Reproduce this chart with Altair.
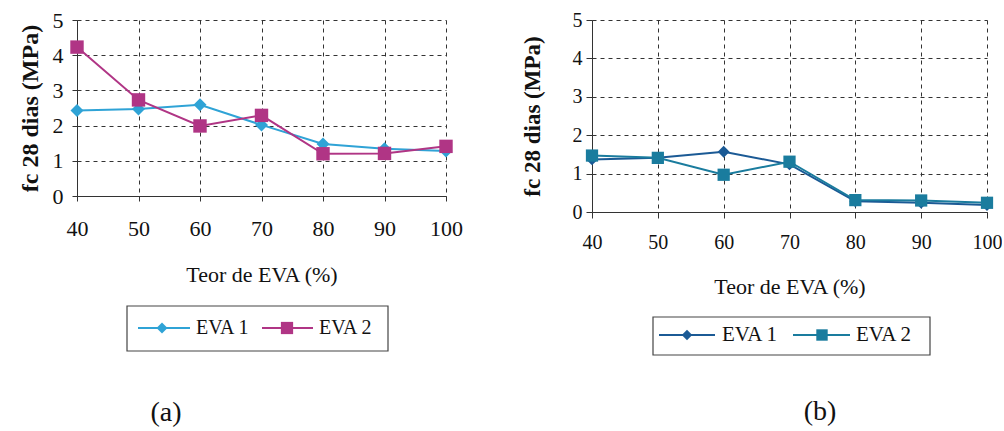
import altair as alt
import pandas as pd

teor = [40, 50, 60, 70, 80, 90, 100]
series = ["EVA 1", "EVA 2"]
a_eva1 = [2.43, 2.47, 2.59, 2.02, 1.48, 1.34, 1.28]
a_eva2 = [4.23, 2.73, 1.99, 2.29, 1.20, 1.21, 1.41]
b_eva1 = [1.37, 1.41, 1.57, 1.24, 0.28, 0.24, 0.18]
b_eva2 = [1.47, 1.41, 0.97, 1.31, 0.31, 0.30, 0.24]

x_ticks = teor
y_ticks = [0, 1, 2, 3, 4, 5]
x_title = "Teor de EVA (%)"
y_title = "fc 28 dias (MPa)"
panel_labels = ["(a)", "(b)"]

colors_a = ["#2FA3D6", "#B03585"]
colors_b = ["#1B5A95", "#1A7C9E"]
shapes = ["diamond", "square"]

FONT = "'Liberation Serif', 'Times New Roman', 'DejaVu Serif', serif"


def make_df(v1, v2):
    rows = []
    for s, vals in zip(series, [v1, v2]):
        for t, v in zip(teor, vals):
            rows.append({"teor": t, "fc": v, "serie": s})
    return pd.DataFrame(rows)


def panel(df, colors, W, H, opts):
    xs = alt.Scale(domain=[40, 100], nice=False, zero=False)
    ys = alt.Scale(domain=[0, 5], nice=False)
    cs = alt.Scale(domain=series, range=colors)
    ss = alt.Scale(domain=series, range=shapes)
    x = alt.X("teor:Q", scale=xs,
              axis=alt.Axis(values=x_ticks, title=x_title, format="d",
                            grid=True, gridDash=[4, 4], gridColor="#333",
                            gridWidth=1, domainColor="#333", tickColor="#333",
                            tickSize=opts["tick"], labelFont=FONT, labelFontSize=opts["lfs"],
                            labelColor="#111", labelPadding=opts["xlp"],
                            labelFlush=False, labelOverlap=False,
                            titleFont=FONT, titleFontSize=opts["xtfs"],
                            titleFontWeight="normal", titleColor="#111",
                            titlePadding=opts["xtp"]))
    y = alt.Y("fc:Q", scale=ys,
              axis=alt.Axis(values=y_ticks, title=y_title,
                            grid=True, gridDash=[4, 4], gridColor="#333",
                            gridWidth=1, domainColor="#333", tickColor="#333",
                            tickSize=opts["tick"], labelFont=FONT, labelFontSize=opts["lfs"],
                            labelColor="#111", labelPadding=opts["ylp"],
                            labelFlush=False, labelOverlap=False,
                            titleFont=FONT, titleFontSize=opts["ytfs"],
                            titleFontWeight="bold", titleColor="#111",
                            titlePadding=opts["ytp"]))
    base = alt.Chart(df)
    line = base.mark_line(strokeWidth=2).encode(
        x=x, y=y, color=alt.Color("serie:N", scale=cs, legend=None),
        detail="serie:N")
    pts = base.mark_point(filled=True, opacity=1).encode(
        x=x, y=y,
        color=alt.Color("serie:N", scale=cs, legend=None),
        shape=alt.Shape("serie:N", scale=ss, legend=None),
        size=alt.Size("serie:N", scale=alt.Scale(domain=series, range=opts["sizes"]), legend=None))

    # legend (drawn)
    lg = opts["legend"]
    box = alt.Chart(pd.DataFrame({"k": [0]})).mark_rect(
        fill="white", stroke="#444", strokeWidth=1.2).encode(
        x=alt.value(lg["x0"]), x2=alt.value(lg["x1"]),
        y=alt.value(lg["y0"]), y2=alt.value(lg["y1"]))
    layers = [line, pts, box]
    for i, s in enumerate(series):
        one = pd.DataFrame({"serie": [s]})
        lx0, lx1, mx, tx = lg["items"][i]
        layers.append(alt.Chart(one).mark_rule(strokeWidth=2).encode(
            x=alt.value(lx0), x2=alt.value(lx1), y=alt.value(lg["yc"]),
            color=alt.Color("serie:N", scale=cs, legend=None)))
        layers.append(alt.Chart(one).mark_point(filled=True, opacity=1).encode(
            x=alt.value(mx), y=alt.value(lg["yc"]),
            color=alt.Color("serie:N", scale=cs, legend=None),
            shape=alt.Shape("serie:N", scale=ss, legend=None),
            size=alt.value(opts["lsizes"][i])))
        layers.append(alt.Chart(one).mark_text(
            align="left", baseline="middle", font=FONT, fontSize=opts["legfs"],
            color="#111").encode(
            x=alt.value(tx), y=alt.value(lg["yc"]), text="serie:N"))
    lab = alt.Chart(pd.DataFrame({"t": [opts["label"]]})).mark_text(
        align="center", baseline="middle", font=FONT, fontSize=28,
        color="#111").encode(
        x=alt.value(opts["lab_x"]), y=alt.value(opts["lab_y"]), text="t:N")
    layers.append(lab)
    return alt.layer(*layers).properties(width=W, height=H)


OY = 21
# panel a: origin (77, 21)
pa = panel(make_df(a_eva1, a_eva2), colors_a, 369, 176, {
    "tick": 5, "lfs": 22, "xtfs": 22, "ytfs": 24, "xlp": 17, "ylp": 9, "xtp": 25,
    "ytp": 10, "sizes": [170, 180], "lsizes": [120, 150], "legfs": 20,
    "label": panel_labels[0],
    "lab_x": 166 - 77, "lab_y": 414 - OY,
    "legend": {"x0": 127 - 77, "x1": 388 - 77, "y0": 307 - OY, "y1": 352 - OY,
               "yc": 329 - OY,
               "items": [(138 - 77, 190 - 77, 162 - 77, 196 - 77),
                         (262 - 77, 313 - 77, 287 - 77, 319 - 77)]},
})

# panel b: origin (592, 21)
pb = panel(make_df(b_eva1, b_eva2), colors_b, 395, 192, {
    "tick": 6, "lfs": 20, "xtfs": 22, "ytfs": 23, "xlp": 14, "ylp": 4, "xtp": 24,
    "ytp": 28, "sizes": [140, 150], "lsizes": [110, 130], "legfs": 21,
    "label": panel_labels[1],
    "lab_x": 820 - 592, "lab_y": 413 - OY,
    "legend": {"x0": 653 - 592, "x1": 930 - 592, "y0": 318 - OY, "y1": 356 - OY,
               "yc": 336 - OY,
               "items": [(659 - 592, 715 - 592, 687 - 592, 722 - 592),
                         (793 - 592, 850 - 592, 822 - 592, 856 - 592)]},
})

chart = alt.hconcat(pa, pb, spacing=146, bounds="flush").resolve_scale(
    color="independent", shape="independent", size="independent"
).properties(
    padding={"left": 17, "top": 9, "right": 0, "bottom": 0},
    background="white",
).configure_view(stroke=None)

chart.save("out.html", embed_options={"renderer": "svg", "actions": False})
